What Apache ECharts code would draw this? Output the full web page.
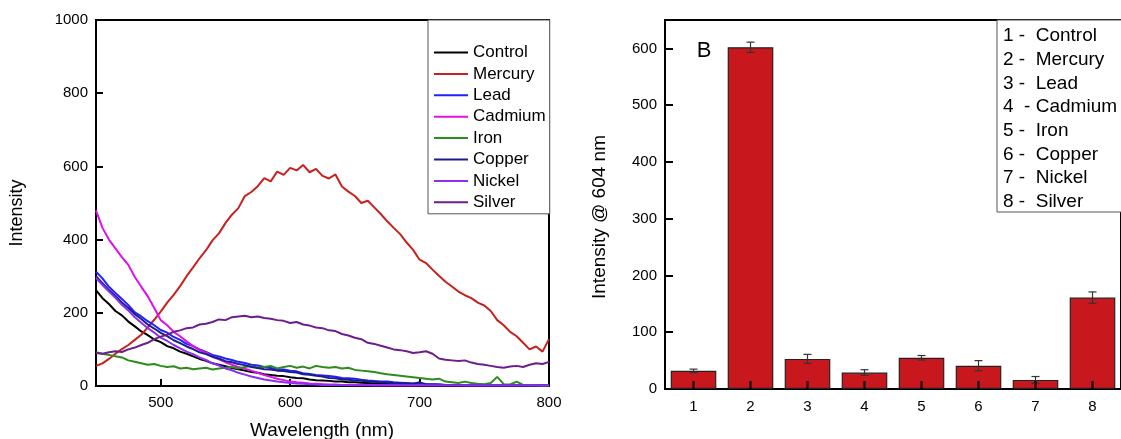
<!DOCTYPE html>
<html>
<head>
<meta charset="utf-8">
<script src="https://cdn.jsdelivr.net/npm/echarts@6/dist/echarts.min.js"></script>
<style>
html,body{margin:0;padding:0;background:#fff;}
#chart{width:1121px;height:439px;}
</style>
</head>
<body>
<div id="chart"></div>
<script>
// ---------- Data ----------
const wavelengths = [450,455,460,465,470,475,480,485,490,495,500,505,510,515,520,525,530,535,540,545,550,555,560,565,570,575,580,585,590,595,600,605,610,615,620,625,630,635,640,645,650,655,660,665,670,675,680,685,690,695,700,705,710,715,720,725,730,735,740,745,750,755,760,765,770,775,780,785,790,795,800];

const seriesNames = ['Control','Mercury','Lead','Cadmium','Iron','Copper','Nickel','Silver'];

const control = [262,240,224,205,193,176,163,149,139,127,120,109,103,94,88,81,74,69,62,58,54,49,46,42,38,36,32,30,28,27,24,22,21,18,16,15,14,12,12,10,10,9,8,7,7,6,5,5,4,4,4,3,3,3,3,2,2,2,2,2,2,2,2,1,1,1,1,1,1,1,1];
const mercury = [55,62,74,88,101,112,126,140,160,181,203,228,249,273,300,324,349,371,398,417,445,468,486,519,530,546,568,559,586,577,596,589,604,584,593,574,567,578,545,531,519,500,506,488,470,450,432,415,392,372,345,336,318,301,285,272,258,248,240,228,220,205,180,166,148,136,118,100,108,94,128];
const lead = [312,294,271,254,238,221,201,190,177,166,153,146,134,126,115,109,100,93,85,81,75,71,66,63,58,56,52,49,46,45,42,40,35,33,30,29,27,25,22,21,20,17,15,14,12,12,10,9,8,7,6,5,5,4,3,3,3,2,2,2,2,2,2,2,2,2,2,2,2,2,2];
const cadmium = [480,432,400,376,352,331,298,271,245,213,180,166,148,136,122,109,98,91,80,73,65,58,52,47,42,36,30,25,20,16,12,10,9,7,6,5,4,4,3,3,3,3,3,2,2,2,2,2,2,2,2,2,2,2,2,2,2,2,2,2,2,2,2,2,2,2,2,2,2,2,2];
const iron = [92,88,85,81,78,70,66,62,58,60,55,52,54,48,50,46,48,50,45,48,50,52,48,52,55,50,52,55,48,52,55,50,53,48,55,52,50,52,48,50,44,42,40,38,35,32,30,28,26,24,22,20,18,20,12,10,8,12,8,6,5,8,25,5,4,12,3,2,2,1,1];
const copper = [300,281,262,246,228,213,196,183,168,157,145,136,125,117,108,101,92,87,80,75,68,65,60,57,52,49,46,45,42,41,38,37,32,31,28,26,22,21,18,17,15,14,12,11,10,9,8,8,7,6,10,5,4,4,3,3,2,2,2,2,2,2,2,2,2,2,2,2,2,2,2];
const nickel = [295,276,258,241,222,206,188,173,158,146,132,123,112,103,94,87,78,71,62,56,48,43,36,31,26,22,18,15,12,10,8,7,6,5,4,3,3,3,3,2,2,2,2,2,2,2,2,2,2,2,2,2,2,2,2,2,2,2,2,2,2,2,2,2,2,2,2,2,2,2,2];
const silver = [90,88,92,95,93,100,105,112,118,128,135,140,148,152,158,160,168,170,175,182,180,188,190,192,188,190,186,184,180,178,172,175,168,165,160,158,152,150,142,138,132,128,118,115,110,105,100,98,95,90,92,95,88,75,72,70,68,70,64,60,58,55,52,50,53,55,52,58,62,60,66];

const lineValues = [control, mercury, lead, cadmium, iron, copper, nickel, silver];
const lineColors = ['#000000','#c8201e','#2020ff','#e010e8','#2e8b1e','#1c1c8c','#8c30f0','#6e1e8c'];

const xTickLabels = [500,600,700,800];
const barCategories = ['1','2','3','4','5','6','7','8'];
const barValues = [32,602,53,29,55,41,16,161];
const barErrors = [3,9,8,5,4,9,6,10];
const barLegendLabels = ['1 -  Control','2 -  Mercury','3 -  Lead','4  - Cadmium','5 -  Iron','6 -  Copper','7 -  Nickel','8 -  Silver'];

// ---------- Chart ----------
const FONT = '"Liberation Sans", Arial, sans-serif';
const chart = echarts.init(document.getElementById('chart'), null, {renderer:'canvas'});

const lineSeries = seriesNames.map((name, k) => ({
  name: name,
  type: 'line',
  xAxisIndex: 0, yAxisIndex: 0,
  showSymbol: false,
  symbol: 'none',
  data: wavelengths.map((w, i) => [w, lineValues[k][i]]),
  lineStyle: {width: 2, color: lineColors[k]},
  itemStyle: {color: lineColors[k]},
  z: 2
}));

const graphics = [
  {type:'text', x:322, y:431, style:{text:'Wavelength (nm)', font:'19px ' + FONT, fill:'#000', textAlign:'center', textVerticalAlign:'middle'}},
  {type:'text', x:17, y:213, rotation:Math.PI/2, style:{text:'Intensity', font:'18px ' + FONT, fill:'#000', textAlign:'center', textVerticalAlign:'middle'}},
  {type:'text', x:600, y:217, rotation:Math.PI/2, style:{text:'Intensity @ 604 nm', font:'19px ' + FONT, fill:'#000', textAlign:'center', textVerticalAlign:'middle'}},
  {type:'text', x:704, y:51, style:{text:'B', font:'22px ' + FONT, fill:'#000', textAlign:'center', textVerticalAlign:'middle'}},
  {type:'rect', shape:{x:997, y:20, width:140, height:192}, style:{fill:'#fff', stroke:'#555', lineWidth:1}, z:10}
];
barLegendLabels.forEach((t, i) => {
  graphics.push({type:'text', x:1003, y:36 + i*23.7, z:11,
    style:{text:t, font:'19px ' + FONT, fill:'#000', textAlign:'left', textVerticalAlign:'middle'}});
});

const option = {
  backgroundColor: '#fff',
  animation: false,
  textStyle: {fontFamily: FONT},
  grid: [
    {left:96, top:20, width:453, height:366, show:true, borderColor:'#000', borderWidth:2, backgroundColor:'transparent'},
    {left:665, top:20, width:458, height:369, show:true, borderColor:'#000', borderWidth:2, backgroundColor:'transparent'}
  ],
  legend: {
    data: seriesNames,
    orient: 'vertical',
    left: 428, top: 20,
    padding: [24, 4, 3, 6],
    itemWidth: 34, itemHeight: 2, itemGap: 4.4,
    icon: 'rect',
    borderColor: '#555', borderWidth: 1,
    backgroundColor: '#fff',
    selectedMode: false,
    textStyle: {fontSize: 17, lineHeight: 17, color: '#000', fontFamily: FONT}
  },
  xAxis: [
    {type:'value', gridIndex:0, min:450, max:800, interval:50,
     splitLine:{show:false},
     axisLine:{lineStyle:{color:'#000', width:2}},
     axisTick:{inside:true, length:7, lineStyle:{color:'#000', width:2}, customValues:[500,600,700]},
     axisLabel:{customValues: xTickLabels, fontSize:15, color:'#000', margin:9, fontFamily:FONT,
       formatter: v => (xTickLabels.indexOf(v) >= 0 ? String(v) : '')}},
    {type:'category', gridIndex:1, data: barCategories,
     axisLine:{lineStyle:{color:'#000', width:2}},
     axisTick:{show:false},
     axisLabel:{fontSize:15, color:'#000', margin:10, fontFamily:FONT}}
  ],
  yAxis: [
    {type:'value', gridIndex:0, min:0, max:1000, interval:200,
     splitLine:{show:false},
     axisLine:{show:true, lineStyle:{color:'#000', width:2}},
     axisTick:{show:true, inside:true, length:7, lineStyle:{color:'#000', width:2}},
     axisLabel:{fontSize:15, color:'#000', margin:8, fontFamily:FONT, formatter: v => String(v)}},
    {type:'value', gridIndex:1, min:0, max:650, interval:100,
     splitLine:{show:false},
     axisLine:{show:true, lineStyle:{color:'#000', width:2}},
     axisTick:{show:true, inside:true, length:8, lineStyle:{color:'#000', width:2}},
     axisLabel:{fontSize:15, color:'#000', margin:8, fontFamily:FONT,
       formatter: v => (v % 100 === 0 ? String(v) : '')}}
  ],
  graphic: graphics,
  series: lineSeries.concat([
    {type:'bar', name:'bars', xAxisIndex:1, yAxisIndex:1, data: barValues, barWidth:'80%',
     itemStyle:{color:'#c8181e', borderColor:'#222', borderWidth:1.2}, z:2},
    {type:'custom', name:'err', xAxisIndex:1, yAxisIndex:1, z:4,
     data: barCategories.map((c, i) => [i, barValues[i], barErrors[i]]),
     encode: {x:0, y:1},
     renderItem: function(params, api) {
       const idx = api.value(0), v = api.value(1), e = api.value(2);
       const top = api.coord([idx, v + e]);
       const bot = api.coord([idx, v - e]);
       const base = api.coord([idx, 0]);
       const hw = 4;
       const st = {stroke:'#333', lineWidth:1.2};
       return {type:'group', children:[
         {type:'line', shape:{x1:top[0], y1:top[1], x2:bot[0], y2:bot[1]}, style:st},
         {type:'line', shape:{x1:top[0]-hw, y1:top[1], x2:top[0]+hw, y2:top[1]}, style:st},
         {type:'line', shape:{x1:bot[0]-hw, y1:bot[1], x2:bot[0]+hw, y2:bot[1]}, style:st},
         {type:'line', shape:{x1:base[0], y1:base[1], x2:base[0], y2:base[1]-8}, style:{stroke:'#000', lineWidth:2}}
       ]};
     }}
  ])
};
chart.setOption(option);
</script>
</body>
</html>
